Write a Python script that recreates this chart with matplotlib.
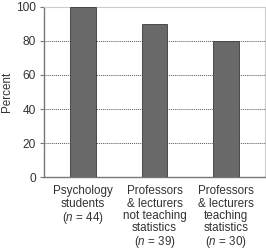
import matplotlib
matplotlib.use("Agg")
import matplotlib.pyplot as plt
import numpy as np

plt.rcParams['font.family'] = ['Liberation Sans', 'DejaVu Sans']
plt.rcParams['mathtext.fontset'] = 'custom'
plt.rcParams['mathtext.it'] = 'Liberation Sans:italic'
plt.rcParams['mathtext.rm'] = 'Liberation Sans'

groups = ["Psychology\nstudents\n($\\it{n}$ = 44)",
          "Professors\n& lecturers\nnot teaching\nstatistics\n($\\it{n}$ = 39)",
          "Professors\n& lecturers\nteaching\nstatistics\n($\\it{n}$ = 30)"]
percent = [100, 90, 80]
yticks = [0, 20, 40, 60, 80, 100]

fig = plt.figure(figsize=(2.66, 2.52), dpi=100)
ax = fig.add_axes([44/266, 75/252, 221/266, 170/252])

x = np.arange(len(groups))
ax.bar(x, percent, width=0.36, color='#696969', edgecolor='#3a3a3a', linewidth=0.6, zorder=3)

ax.set_xlim(-0.545, 2.545)
ax.set_ylim(0, 100)
ax.set_yticks(yticks)
ax.yaxis.grid(True, linestyle=(0, (1.0, 1.0)), color='#555555', linewidth=0.7, zorder=0)
ax.set_xticks(x)
ax.set_xticklabels(groups, fontsize=8.4, color='#333333', linespacing=1.02)
ax.tick_params(axis='x', length=0, pad=6)
ax.tick_params(axis='y', labelsize=8.6, labelcolor='#333333', length=3, color='#777777', width=0.8, pad=3)
ax.set_ylabel("Percent", fontsize=8.4, color='#333333')
ax.yaxis.set_label_coords(-0.14, 0.5)

for side in ['left', 'bottom']:
    ax.spines[side].set_color('#777777')
    ax.spines[side].set_linewidth(1.0)
for side in ['top', 'right']:
    ax.spines[side].set_color('#cccccc')
    ax.spines[side].set_linewidth(0.8)

fig.savefig("out.png", dpi=100)
